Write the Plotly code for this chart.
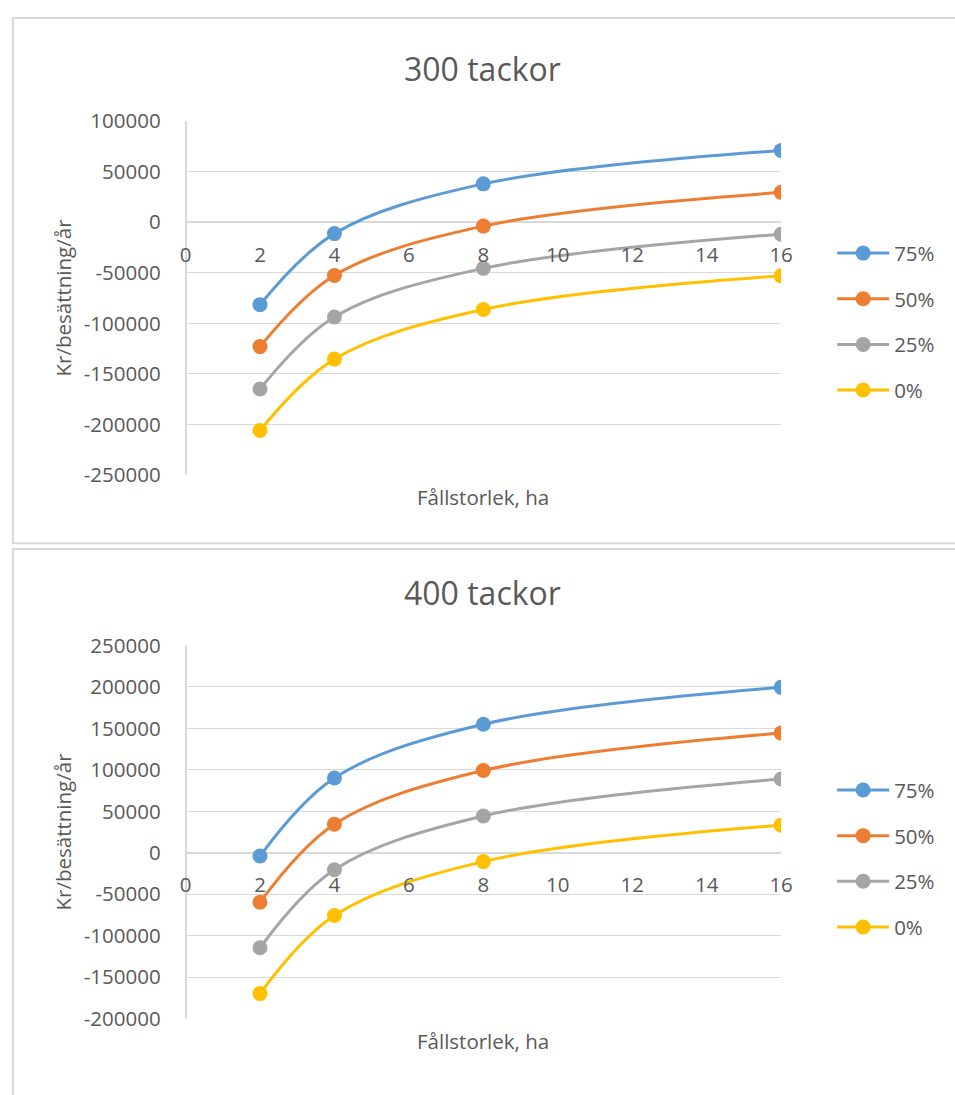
import plotly.graph_objects as go

W, H = 955, 1095

x_ha = [2, 4, 8, 16]
series_names = ["75%", "50%", "25%", "0%"]
colors = ["#5B9BD5", "#ED7D31", "#A5A5A5", "#FFC000"]

vals_300 = {
    "75%": [-81500, -11200, 38000, 71000],
    "50%": [-123000, -52600, -3800, 29600],
    "25%": [-165000, -93700, -45600, -11800],
    "0%": [-206000, -135400, -86300, -53000],
}
vals_400 = {
    "75%": [-3900, 90200, 155000, 199500],
    "50%": [-59600, 34500, 99200, 144300],
    "25%": [-114500, -20400, 44400, 89000],
    "0%": [-169800, -75600, -10600, 33300],
}
x_ticks = [0, 2, 4, 6, 8, 10, 12, 14, 16]
y_ticks_300 = [100000, 50000, 0, -50000, -100000, -150000, -200000, -250000]
y_ticks_400 = [250000, 200000, 150000, 100000, 50000, 0, -50000, -100000, -150000, -200000]

FONT = "Open Sans"
TXT = "#595959"
GRID = "#D9D9D9"
TICK_SIZE = 20.5
TITLE_SIZE = 32


def py(px):
    return 1 - px / H


def pxx(px):
    return px / W


fig = go.Figure()
for name, col in zip(series_names, colors):
    fig.add_trace(go.Scatter(
        x=x_ha, y=vals_300[name], name=name, mode="lines+markers",
        line=dict(color=col, width=3, shape="spline", smoothing=1),
        marker=dict(color=col, size=15),
        xaxis="x", yaxis="y", legend="legend", legendgroup="a" + name,
    ))
for name, col in zip(series_names, colors):
    fig.add_trace(go.Scatter(
        x=x_ha, y=vals_400[name], name=name, mode="lines+markers",
        line=dict(color=col, width=3, shape="spline", smoothing=1),
        marker=dict(color=col, size=15),
        xaxis="x2", yaxis="y2", legend="legend2", legendgroup="b" + name,
    ))

xdom = [pxx(183), pxx(790)]
top_y0, top_y1 = 472, 109
bot_y0, bot_y1 = 1030, 647

zero_top = top_y0 - (0 - (-250000)) / 350000 * (top_y0 - top_y1)
zero_bot = bot_y0 - (0 - (-200000)) / 450000 * (bot_y0 - bot_y1)

common_x = dict(range=[0, 16], tickvals=x_ticks, showgrid=False, showline=False,
                zeroline=False, ticks="", ticklabelstandoff=18,
                tickfont=dict(family=FONT, size=TICK_SIZE, color=TXT), anchor="free")
common_y = dict(showgrid=True, gridcolor=GRID, gridwidth=1, zeroline=True,
                zerolinecolor=GRID, zerolinewidth=1.5, showline=True, linecolor=GRID,
                linewidth=1.5, ticks="outside", ticklen=20, tickcolor="rgba(0,0,0,0)",
                tickfont=dict(family=FONT, size=TICK_SIZE, color=TXT),
                anchor="free", position=xdom[0])

legend_common = dict(xanchor="left", yanchor="top", itemwidth=52,
                     font=dict(family=FONT, size=TICK_SIZE, color=TXT), tracegroupgap=16,
                     bgcolor="rgba(0,0,0,0)")

fig.update_layout(
    width=W, height=H, margin=dict(l=0, r=0, t=0, b=0),
    paper_bgcolor="white", plot_bgcolor="white",
    xaxis=dict(domain=xdom, position=py(zero_top), **common_x),
    yaxis=dict(domain=[py(top_y0), py(top_y1)], range=[-250000, 100000],
               tickvals=y_ticks_300, ticktext=[str(v) for v in y_ticks_300], **common_y),
    xaxis2=dict(domain=xdom, position=py(zero_bot), **common_x),
    yaxis2=dict(domain=[py(bot_y0), py(bot_y1)], range=[-200000, 250000],
                tickvals=y_ticks_400, ticktext=[str(v) for v in y_ticks_400], **common_y),
    legend=dict(x=pxx(842), y=py(224), **legend_common),
    legend2=dict(x=pxx(842), y=py(775), **legend_common),
    showlegend=True,
)

fig.update_layout(shapes=[
    dict(type="rect", xref="paper", yref="paper", x0=pxx(7), x1=1.02,
         y0=py(542), y1=py(3), line=dict(color=GRID, width=2)),
    dict(type="rect", xref="paper", yref="paper", x0=pxx(7), x1=1.02,
         y0=-0.02, y1=py(548), line=dict(color=GRID, width=2)),
])

ann = []
for title, ty, xt_y, yt_y in [("300 tackor", 55, 495, 290), ("400 tackor", 593, 1053, 838)]:
    ann.append(dict(text=title, x=pxx(486), y=py(ty), xref="paper", yref="paper",
                    xanchor="center", yanchor="middle", showarrow=False,
                    font=dict(family=FONT, size=TITLE_SIZE, color=TXT)))
    ann.append(dict(text="Fållstorlek, ha", x=pxx(486), y=py(xt_y), xref="paper", yref="paper",
                    xanchor="center", yanchor="middle", showarrow=False,
                    font=dict(family=FONT, size=TICK_SIZE, color=TXT)))
    ann.append(dict(text="Kr/besättning/år", x=pxx(58), y=py(yt_y), xref="paper", yref="paper",
                    xanchor="center", yanchor="middle", showarrow=False, textangle=-90,
                    font=dict(family=FONT, size=TICK_SIZE, color=TXT)))
fig.update_layout(annotations=ann)

fig.write_html("out.html", config={"displayModeBar": False},
               post_script="document.body.style.margin='0';document.body.style.overflow='hidden';")
